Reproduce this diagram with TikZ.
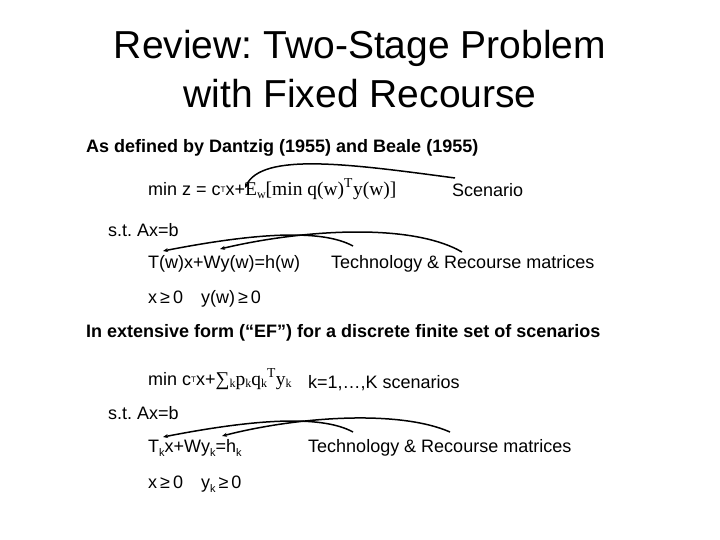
\documentclass[tikz,border=0pt]{standalone}
\usetikzlibrary{arrows.meta}
\usepackage{fontspec}
\setmainfont{Liberation Sans}
\newfontfamily\serf{Liberation Serif}
\frenchspacing
\begin{document}
\begin{tikzpicture}[x=1pt,y=-1pt,
  txt/.style={anchor=west,inner sep=0pt,font=\fontsize{18}{20}\selectfont},
  bld/.style={anchor=west,inner sep=0pt,font=\fontsize{18}{20}\selectfont\bfseries},
  ttl/.style={inner sep=0pt,font=\fontsize{39}{44}\selectfont},
  arr/.style={-{Stealth[length=5pt,width=4pt]},line width=1.5pt}]
\useasboundingbox (0,0) rectangle (720,540);
\node[ttl] (t1) at (360,48) {Review: Two-Stage Problem};
\node[ttl] (t2) at (360,94) {with Fixed Recourse};
\node[bld] (h1) at (86,148) {As defined by Dantzig (1955) and Beale (1955)};
\node[txt] (f1) at (148,189) {min z = c\raisebox{3pt}{\fontsize{8}{8}\selectfont T}x+{\serf\fontsize{19.5}{20}\selectfont E\raisebox{-3pt}{\fontsize{12}{12}\selectfont w}[min q(w)\textsuperscript{T}y(w)]}};
\node[txt] (sc) at (452,190) {Scenario};
\node[txt] (s1) at (108,230) {s.t. Ax=b};
\node[txt] (c1) at (148,264) {T(w)x+Wy(w)=h(w)};
\node[txt] (tr1) at (331,264) {Technology \& Recourse matrices};
\node[txt] (n1) at (148,299) {x\,≥\,0\quad y(w)\,≥\,0};
\node[bld] (h2) at (86,333) {In extensive form (“EF”) for a discrete finite set of scenarios};
\node[txt] (f2) at (148,379) {min c\raisebox{3pt}{\fontsize{8}{8}\selectfont T}x+{\serf\fontsize{19.5}{20}\selectfont∑\raisebox{-2pt}{\fontsize{12}{12}\selectfont k}p\raisebox{-2pt}{\fontsize{12}{12}\selectfont k}q\raisebox{-2pt}{\fontsize{12}{12}\selectfont k}\textsuperscript{T}y\raisebox{-2pt}{\fontsize{12}{12}\selectfont k}}};
\node[txt] (ks) at (308,383) {k=1,…,K scenarios};
\node[txt] (s2) at (108,413) {s.t. Ax=b};
\node[txt] (c2) at (148,448) {T\raisebox{-4pt}{\fontsize{11}{11}\selectfont k}x+Wy\raisebox{-4pt}{\fontsize{11}{11}\selectfont k}=h\raisebox{-4pt}{\fontsize{11}{11}\selectfont k}};
\node[txt] (tr2) at (308,448) {Technology \& Recourse matrices};
\node[txt] (n2) at (148,484) {x\,≥\,0\quad y\raisebox{-4pt}{\fontsize{11}{11}\selectfont k}\,≥\,0};
% arrows
\coordinate (sa) at (455,178); \coordinate (se) at (245,188);
\draw[arr] (sa) .. controls (350,164) and (262,152) .. (se);
\coordinate (a1) at (353,246); \coordinate (e1) at (163,251);
\coordinate (a2) at (462,252); \coordinate (e2) at (220,249);
\draw[arr] (a1) .. controls (320,228) and (250,234) .. (e1);
\draw[arr] (a2) .. controls (410,222) and (300,230) .. (e2);
\coordinate (b1) at (353,432); \coordinate (g1) at (163,437);
\coordinate (b2) at (450,432); \coordinate (g2) at (222,436);
\draw[arr] (b1) .. controls (320,414) and (250,420) .. (g1);
\draw[arr] (b2) .. controls (400,410) and (300,416) .. (g2);
\end{tikzpicture}
\end{document}
